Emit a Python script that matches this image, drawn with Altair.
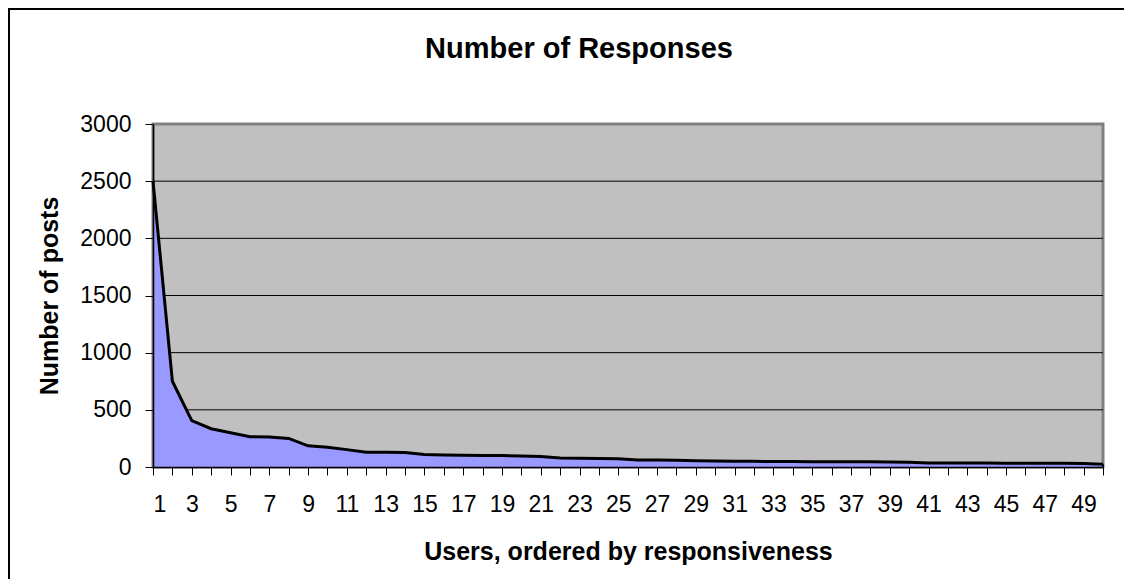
import altair as alt
import pandas as pd

users = list(range(1, 51))
posts = [2500, 750, 405, 335, 300, 265, 262, 250, 185, 172,
         152, 130, 130, 126, 110, 106, 102, 100, 100, 96,
         92, 78, 76, 75, 72, 62, 62, 58, 55, 52,
         50, 50, 48, 48, 45, 45, 45, 45, 44, 42,
         36, 36, 35, 35, 32, 32, 32, 32, 30, 25]
y_ticks = [0, 500, 1000, 1500, 2000, 2500, 3000]
grid_vals = [500, 1000, 1500, 2000, 2500]
title_text = "Number of Responses"
x_title = "Users, ordered by responsiveness"
y_title = "Number of posts"

df = pd.DataFrame({"user": users, "posts": posts})
grid_df = pd.DataFrame({"posts": grid_vals})
last_df = df.tail(1)
FONT = "Liberation Sans"

x_scale = alt.Scale(domain=[1, 50], nice=False, zero=False)
y_scale = alt.Scale(domain=[0, 3000], nice=False)

x_axis = alt.Axis(
    values=users,
    labelExpr="datum.value % 2 == 1 ? datum.label : ''",
    labelOverlap=False,
    labelBound=False,
    grid=False,
    domain=True,
    domainColor="black",
    domainWidth=1.5,
    tickColor="black",
    tickSize=8,
    labelPadding=18,
    labelFontSize=23,
    labelFont=FONT,
    labelColor="black",
    title=x_title,
    titleFont=FONT,
    titleFontSize=25,
    titleFontWeight="bold",
    titleColor="black",
    titlePadding=23,
    zindex=1,
)
y_axis = alt.Axis(
    values=y_ticks,
    format="d",
    labelOverlap=False,
    grid=False,
    domain=True,
    domainColor="black",
    domainWidth=1.5,
    tickColor="black",
    tickSize=8,
    labelPadding=14,
    labelFontSize=23,
    labelFont=FONT,
    labelColor="black",
    title=y_title,
    titleFont=FONT,
    titleFontSize=25,
    titleFontWeight="bold",
    titleColor="black",
    titlePadding=17,
    zindex=1,
)

def X():
    return alt.X("user:Q", scale=x_scale, axis=x_axis, title=x_title)

def Y():
    return alt.Y("posts:Q", scale=y_scale, axis=y_axis, title=y_title)

grid = alt.Chart(grid_df).mark_rule(color="black", strokeWidth=1).encode(y=Y())
area = alt.Chart(df).mark_area(color="#9999FF", opacity=1).encode(x=X(), y=Y())
line = alt.Chart(df).mark_line(color="black", strokeWidth=3).encode(x=X(), y=Y())
right_end = alt.Chart(last_df).mark_rule(color="black", strokeWidth=2).encode(
    x=X(), y=Y(), y2=alt.datum(0)
)
title = alt.Chart(pd.DataFrame({"t": [title_text]})).mark_text(
    font=FONT, fontSize=29, fontWeight="bold", color="black", align="center", baseline="alphabetic"
).encode(text="t:N", x=alt.value(426), y=alt.value(-66))
border = alt.Chart(pd.DataFrame({"a": [0]})).mark_rect(
    fill=None, stroke="black", strokeWidth=2
).encode(x=alt.value(-144), x2=alt.value(1000), y=alt.value(-115), y2=alt.value(500))

chart = alt.layer(grid, area, line, right_end, title, border).properties(
    width=950,
    height=343,
    background="white",
    autosize=alt.AutoSizeParams(type="none"),
    padding={"left": 145, "top": 116, "right": 21, "bottom": 112},
).configure_view(
    fill="#C0C0C0", stroke="#808080", strokeWidth=3
).configure_axis(labelOverlap=False)

chart.save("out.html", embed_options={"renderer": "svg", "actions": False})
